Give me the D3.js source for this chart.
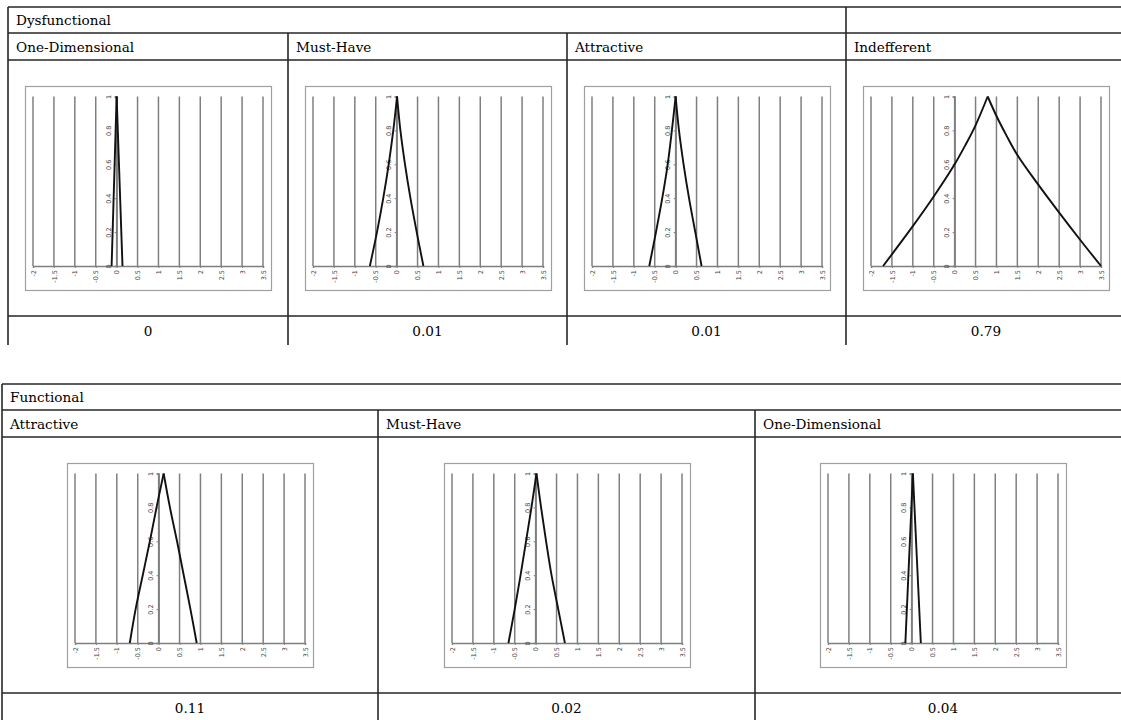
<!DOCTYPE html>
<html>
<head>
<meta charset="utf-8">
<script src="https://cdn.jsdelivr.net/npm/d3@7/dist/d3.min.js"></script>
<style>
  html, body { margin: 0; padding: 0; background: #fff; }
  svg { display: block; }
  .cell-text { font-family: "DejaVu Serif", serif; font-size: 13.6px; fill: #000; }
  .tick-text { font-family: "DejaVu Sans", sans-serif; font-size: 6.5px; fill: #444; }
</style>
</head>
<body>
<svg id="chart" width="1121" height="720"></svg>
<script>
// Axis ticks shared by every membership plot
const xTicks = [-2, -1.5, -1, -0.5, 0, 0.5, 1, 1.5, 2, 2.5, 3, 3.5];
const yTicks = [0, 0.2, 0.4, 0.6, 0.8, 1];

// Dysfunctional answers
const dysTitle = "Dysfunctional";
const dysCategories = ["One-Dimensional", "Must-Have", "Attractive", "Indefferent"];
const dysValues = [0, 0.01, 0.01, 0.79];
const dysCurves = [
  [[-0.12, 0], [0, 1], [0.14, 0]],
  [[-0.64, 0], [-0.47, 0.2], [-0.32, 0.4], [-0.19, 0.6], [-0.08, 0.8], [0.01, 1],
   [0.09, 0.8], [0.2, 0.6], [0.33, 0.4], [0.48, 0.2], [0.64, 0]],
  [[-0.63, 0], [-0.47, 0.2], [-0.32, 0.4], [-0.19, 0.6], [-0.09, 0.8], [0, 1],
   [0.08, 0.8], [0.19, 0.6], [0.32, 0.4], [0.47, 0.2], [0.62, 0]],
  [[-1.71, 0], [-1, 0.235], [-0.5, 0.41], [0, 0.6], [0.25, 0.71], [0.5, 0.83], [0.79, 1],
   [1, 0.885], [1.25, 0.765], [1.5, 0.655], [2, 0.48], [2.5, 0.315], [3, 0.155], [3.5, 0]]
];

// Functional answers
const funTitle = "Functional";
const funCategories = ["Attractive", "Must-Have", "One-Dimensional"];
const funValues = [0.11, 0.02, 0.04];
const funCurves = [
  [[-0.69, 0], [-0.55, 0.2], [-0.38, 0.4], [-0.21, 0.6], [-0.05, 0.8], [0.12, 1],
   [0.27, 0.8], [0.44, 0.6], [0.6, 0.4], [0.76, 0.2], [0.91, 0]],
  [[-0.65, 0], [-0.5, 0.2], [-0.36, 0.4], [-0.23, 0.6], [-0.1, 0.8], [0.02, 1],
   [0.13, 0.8], [0.25, 0.6], [0.38, 0.4], [0.54, 0.2], [0.7, 0]],
  [[-0.15, 0], [0.03, 1], [0.22, 0]]
];

const svg = d3.select("#chart");
svg.append("rect").attr("width", 1121).attr("height", 720).attr("fill", "#fff");

const lineColor = "#262626";
const gridColor = "#7f7f7f";
const fmt = d => (d === 0 ? "0" : String(d));

// Small membership-function plot inside a light frame
function drawPlot(g, pts) {
  const boxW = 246, boxH = 204;
  g.append("rect")
    .attr("x", 0.5).attr("y", 0.5)
    .attr("width", boxW).attr("height", boxH)
    .attr("fill", "#fff").attr("stroke", "#a0a0a0").attr("stroke-width", 1.2);

  const x = d3.scaleLinear().domain([xTicks[0], xTicks[xTicks.length - 1]]).range([8, 238]);
  const y = d3.scaleLinear().domain([0, 1]).range([180, 10.5]);

  // vertical grid lines
  g.selectAll(".grid").data(xTicks).join("line")
    .attr("x1", d => x(d)).attr("x2", d => x(d))
    .attr("y1", y(1)).attr("y2", y(0))
    .attr("stroke", gridColor).attr("stroke-width", 1.5);

  // horizontal axis
  const xAxis = d3.axisBottom(x).tickValues(xTicks).tickSize(2).tickFormat(fmt);
  const gx = g.append("g").attr("transform", `translate(0,${y(0)})`).call(xAxis);
  gx.select(".domain").attr("stroke", gridColor).attr("stroke-width", 1.5);
  gx.selectAll(".tick line").attr("stroke", gridColor);
  gx.selectAll(".tick text")
    .attr("class", "tick-text")
    .attr("transform", "rotate(-90)")
    .attr("x", -4).attr("y", 0).attr("dy", "0.32em")
    .attr("text-anchor", "end");

  // vertical axis at x = 0
  const yAxis = d3.axisLeft(y).tickValues(yTicks).tickSize(2).tickFormat(fmt);
  const gy = g.append("g").attr("transform", `translate(${x(0)},0)`).call(yAxis);
  gy.select(".domain").attr("stroke", gridColor).attr("stroke-width", 1.5);
  gy.selectAll(".tick line").attr("stroke", gridColor);
  gy.selectAll(".tick text")
    .attr("class", "tick-text")
    .attr("transform", "rotate(-90)")
    .attr("x", 0).attr("y", -6)
    .attr("dy", 0)
    .attr("text-anchor", "middle");

  // membership curve: rising and falling branches meet at the peak
  const peak = pts.findIndex(p => p[1] === 1);
  const line = d3.line().x(d => x(d[0])).y(d => y(d[1])).curve(d3.curveCatmullRom.alpha(0.5));
  [pts.slice(0, peak + 1), pts.slice(peak)].forEach(seg => {
    g.append("path").datum(seg)
      .attr("d", line)
      .attr("fill", "none")
      .attr("stroke", "#111")
      .attr("stroke-width", 1.9)
      .attr("stroke-linejoin", "miter");
  });
}

function hline(x1, x2, yy) {
  svg.append("line").attr("x1", x1).attr("x2", x2).attr("y1", yy).attr("y2", yy)
    .attr("stroke", lineColor).attr("stroke-width", 1.6);
}
function vline(xx, y1, y2) {
  svg.append("line").attr("x1", xx).attr("x2", xx).attr("y1", y1).attr("y2", y2)
    .attr("stroke", lineColor).attr("stroke-width", 1.6);
}

// One table: title row, category row, plot row, value row
function drawTable(opt) {
  const { left, top, cols, title, titleSpanEnd, categories, values, curves, bottom } = opt;
  const rTitle = top + 26, rCat = rTitle + 27, rPlot = rCat + 256;
  const right = 1121;
  const colW = cols[1] - cols[0];

  hline(left, right, top);
  hline(left, right, rTitle);
  hline(left, right, rCat);
  hline(left, right, rPlot);
  vline(left, top, bottom);
  if (titleSpanEnd) vline(titleSpanEnd, top, bottom);
  cols.slice(1).forEach(cx => { if (cx !== titleSpanEnd) vline(cx, rTitle, bottom); });

  svg.append("text").attr("class", "cell-text")
    .attr("x", left + 8).attr("y", top + 18).text(title);

  categories.forEach((c, i) => {
    const x0 = cols[i];
    svg.append("text").attr("class", "cell-text")
      .attr("x", x0 + 8).attr("y", rTitle + 18.5).text(c);

    const cellW = (i + 1 < cols.length ? cols[i + 1] : x0 + colW) - x0;
    const cx = x0 + cellW / 2;
    const g = svg.append("g")
      .attr("transform", `translate(${Math.round(cx - 123)},${rCat + 26})`);
    drawPlot(g, curves[i]);

    svg.append("text").attr("class", "cell-text")
      .attr("x", cx).attr("y", rPlot + 19.5)
      .attr("text-anchor", "middle").text(fmt(values[i]));
  });
}

drawTable({
  left: 8, top: 7, cols: [8, 288, 567, 846], titleSpanEnd: 846,
  title: dysTitle, categories: dysCategories, values: dysValues, curves: dysCurves,
  bottom: 345
});

drawTable({
  left: 2, top: 384, cols: [2, 378, 755], titleSpanEnd: null,
  title: funTitle, categories: funCategories, values: funValues, curves: funCurves,
  bottom: 720
});
</script>
</body>
</html>
